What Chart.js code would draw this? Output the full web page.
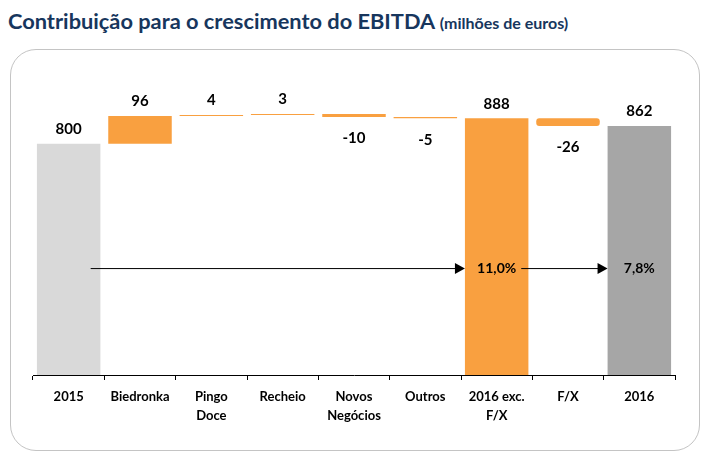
<!DOCTYPE html>
<html lang="pt">
<head>
    <meta charset="UTF-8">
    <title>Contribuição para o crescimento do EBITDA</title>
    <style>
        body {
            margin: 0;
            width: 704px;
            height: 458px;
            background: #fff;
            font-family: Lato, Arial, sans-serif;
            position: relative;
            overflow: hidden;
        }
        .title {
            position: absolute;
            left: 8px;
            top: 7px;
            color: #17365d;
            font-weight: bold;
            font-size: 21.8px;
            white-space: nowrap;
        }
        .title small {
            font-size: 16px;
        }
        .frame {
            position: absolute;
            left: 10px;
            top: 49px;
            width: 688px;
            height: 400px;
            border: 1px solid #c4c4c4;
            border-radius: 26px;
        }
        .wrap {
            position: absolute;
            left: 0;
            top: 0;
            width: 704px;
            height: 458px;
        }
    </style>
</head>
<body>
    <div class="title">Contribuição para o crescimento do EBITDA <small>(milhões de euros)</small></div>
    <div class="frame"></div>
    <div class="wrap"><canvas id="chart"></canvas></div>

    <script src="https://cdn.jsdelivr.net/npm/chart.js"></script>
    <script>
        // data
        const categories = [['2015'], ['Biedronka'], ['Pingo', 'Doce'], ['Recheio'], ['Novos', 'Negócios'], ['Outros'], ['2016 exc.', 'F/X'], ['F/X'], ['2016']];
        const values = [800, 96, 4, 3, -10, -5, 888, -26, 862];
        const kinds = ['start', 'step', 'step', 'step', 'step', 'step', 'subtotal', 'step', 'end'];
        const growthLabels = ['11,0%', '7,8%'];
        const growthFrom = [0, 6];
        const growthTo = [6, 8];
        const growthLevel = 370;

        const colors = { start: '#d9d9d9', step: '#f9a040', subtotal: '#f9a040', end: '#a6a6a6' };

        // build floating ranges for the waterfall
        let run = 0;
        const ranges = values.map((v, i) => {
            if (kinds[i] !== 'step') {
                run = v;
                return [0, v];
            }
            const r = [run, run + v];
            run += v;
            return r;
        });

        const valueLabels = {
            id: 'valueLabels',
            afterDatasetsDraw(chart) {
                const ctx = chart.ctx;
                const meta = chart.getDatasetMeta(0);
                ctx.save();
                ctx.font = 'bold 15px Lato, Arial, sans-serif';
                ctx.fillStyle = '#000';
                ctx.textAlign = 'center';
                meta.data.forEach((bar, i) => {
                    const top = Math.min(bar.y, bar.base);
                    const bottom = Math.max(bar.y, bar.base);
                    if (values[i] >= 0) {
                        ctx.textBaseline = 'bottom';
                        ctx.fillText(values[i], bar.x, top - 7);
                    } else {
                        ctx.textBaseline = 'top';
                        ctx.fillText(values[i], bar.x, bottom + 14);
                    }
                });

                // growth arrows
                const y = chart.scales.y.getPixelForValue(growthLevel);
                ctx.font = 'bold 14px Lato, Arial, sans-serif';
                ctx.textBaseline = 'middle';
                growthLabels.forEach((lab, k) => {
                    const a = meta.data[growthFrom[k]];
                    const b = meta.data[growthTo[k]];
                    let x0;
                    if (k === 0) {
                        x0 = a.x + 22;
                    } else {
                        x0 = a.x + ctx.measureText(growthLabels[0]).width / 2 + 5;
                    }
                    const x1 = b.x - b.width / 2;
                    ctx.strokeStyle = '#000';
                    ctx.lineWidth = 1;
                    ctx.beginPath();
                    ctx.moveTo(x0, y + 0.5);
                    ctx.lineTo(x1 - 8, y + 0.5);
                    ctx.stroke();
                    ctx.beginPath();
                    ctx.moveTo(x1, y + 0.5);
                    ctx.lineTo(x1 - 10, y - 5);
                    ctx.lineTo(x1 - 10, y + 6);
                    ctx.closePath();
                    ctx.fill();
                    ctx.fillText(lab, b.x, y);
                });
                ctx.restore();
            }
        };

        new Chart(document.getElementById('chart'), {
            type: 'bar',
            data: {
                labels: categories,
                datasets: [{
                    data: ranges,
                    backgroundColor: kinds.map(k => colors[k]),
                    borderWidth: 0,
                    borderSkipped: false,
                    borderRadius: (c) => c.dataIndex === 7 ? 3 : 0,
                    barPercentage: 0.89,
                    categoryPercentage: 1
                }]
            },
            options: {
                responsive: true,
                maintainAspectRatio: false,
                animation: false,
                layout: {
                    padding: { left: 33, right: 29, top: 86, bottom: 23 }
                },
                scales: {
                    x: {
                        afterFit: (s) => { s.height = 60; },
                        grid: {
                            drawOnChartArea: false,
                            drawTicks: true,
                            tickLength: 5,
                            tickColor: '#000'
                        },
                        border: { display: true, color: '#000', width: 1 },
                        ticks: {
                            color: '#000',
                            padding: 7,
                            font: { family: 'Lato, Arial, sans-serif', weight: 'bold', size: 13, lineHeight: 1.5 },
                            maxRotation: 0
                        }
                    },
                    y: {
                        display: false,
                        min: 0,
                        max: 1000
                    }
                },
                plugins: {
                    legend: { display: false },
                    tooltip: { enabled: false }
                }
            },
            plugins: [valueLabels]
        });
    </script>
</body>
</html>
